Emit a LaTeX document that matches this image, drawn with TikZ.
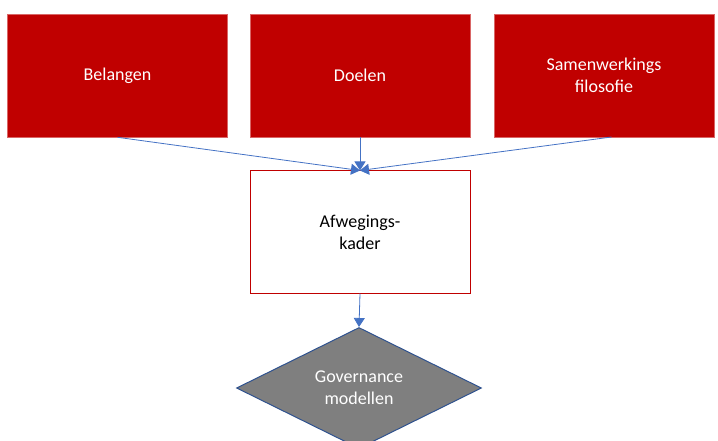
\documentclass[tikz,border=0pt]{standalone}
\usepackage{fontspec}
\setmainfont{Carlito}
\usetikzlibrary{arrows.meta,shapes.geometric}
\definecolor{boxred}{HTML}{C00000}
\definecolor{linkblue}{HTML}{4472C4}
\definecolor{diagray}{HTML}{7F7F7F}
\definecolor{diaborder}{HTML}{2F528F}
\begin{document}
\begin{tikzpicture}[x=1pt,y=-1pt,
  topbox/.style={draw=boxred!60!white,fill=boxred,line width=0.6pt,text=white,font=\fontsize{18}{22}\selectfont,align=center,minimum width=220pt,minimum height=123pt,inner sep=0pt},
  midbox/.style={draw=boxred,fill=white,line width=1pt,text=black,font=\fontsize{18}{22}\selectfont,align=center,minimum width=220pt,minimum height=122pt,inner sep=0pt},
  govdiamond/.style={diamond,draw=diaborder,fill=diagray,line width=1pt,text=white,font=\fontsize{18}{22}\selectfont,align=center,minimum width=245pt,minimum height=121pt,inner sep=0pt,aspect=2},
  link/.style={draw=linkblue,line width=0.8pt,-{Triangle[length=9pt,width=11pt]}}]
\useasboundingbox (0,0) rectangle (718,441);
\node[topbox] (belangen) at (117.5,75.5) {Belangen};
\node[topbox] (doelen) at (360,75.5) {Doelen};
\node[topbox] (samen) at (604,75.5) {Samenwerkings\\filosofie};
\node[midbox] (kader) at (360,232) {Afwegings-\\kader};
\node[govdiamond] (gov) at (359,388) {Governance\\modellen};
\draw[link] (belangen.south) -- (kader.north);
\draw[link] (doelen.south) -- (kader.north);
\draw[link] (611.5,137) -- (kader.north);
\draw[link] (kader.south) -- (gov.north);
\end{tikzpicture}
\end{document}
